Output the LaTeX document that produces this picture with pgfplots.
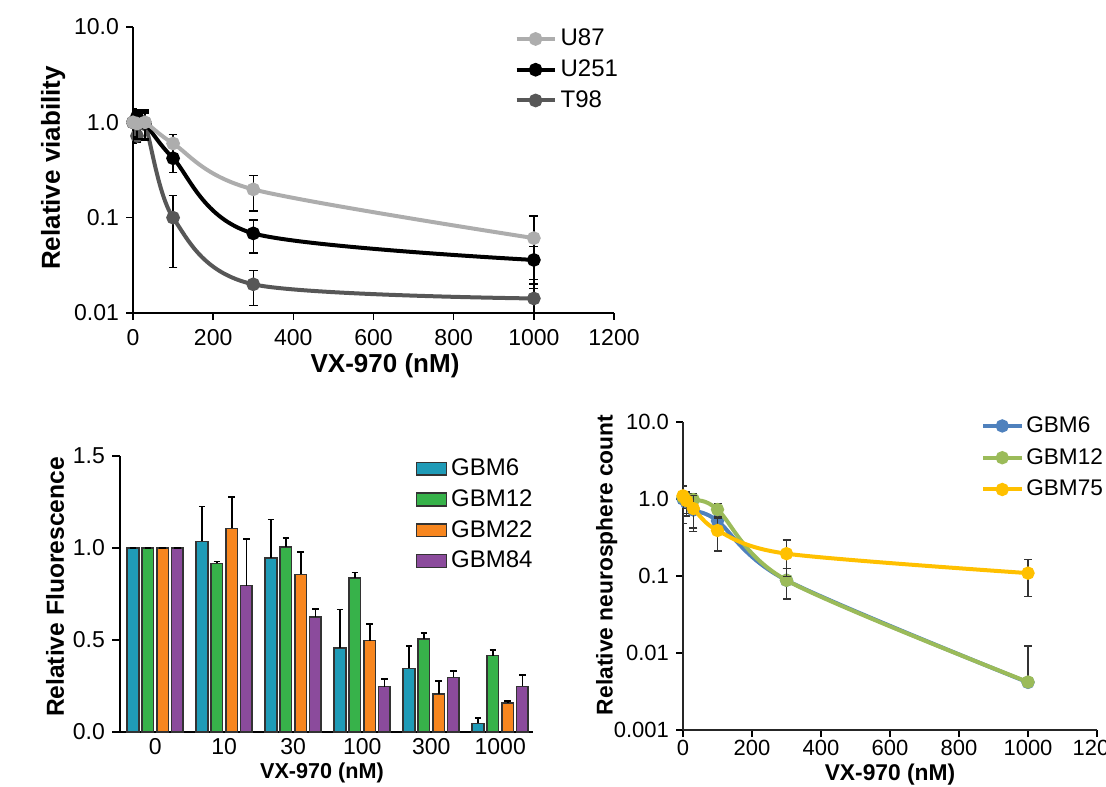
\documentclass[border=0pt]{standalone}
\usepackage{fontspec}
\setmainfont{Liberation Sans}
\usepackage{pgfplots}
\usepackage{pgfplotstable}
\pgfplotsset{compat=1.18}
\definecolor{uSevenEight}{HTML}{ADADAD}
\definecolor{tNineEight}{HTML}{575757}
\definecolor{gbmteal}{HTML}{1F9BB7}
\definecolor{gbmgreen}{HTML}{37B24A}
\definecolor{gbmorange}{HTML}{F7861F}
\definecolor{gbmpurple}{HTML}{8B4B9C}
\definecolor{xlblue}{HTML}{4F81BD}
\definecolor{xlgreen}{HTML}{9BBB59}
\definecolor{xlyellow}{HTML}{FFC000}
\definecolor{edge}{HTML}{333333}

% bar panel: category index, value, upper error
\pgfplotstableread{
x  a     ea     b     eb     c     ec     d     ed
0  1.000 0.000  1.000 0.000  1.000 0.000  1.000 0.000
1  1.036 0.190  0.916 0.011  1.107 0.168  0.796 0.251
2  0.947 0.208  1.005 0.051  0.856 0.122  0.626 0.042
3  0.457 0.209  0.836 0.031  0.497 0.091  0.247 0.040
4  0.346 0.120  0.506 0.031  0.207 0.072  0.297 0.033
5  0.047 0.031  0.415 0.031  0.158 0.009  0.248 0.060
}\bardata

\pgfplotsset{
  panel/.style={
    scale only axis, anchor=south west,
    axis lines=left, axis line style={-, line width=0.9pt},
    tick align=outside, major tick length=3.5pt,
    tick style={black, line width=0.8pt},
    /pgf/number format/assume math mode=true,
    /pgf/number format/1000 sep={},
    legend cell align=left,
  },
  lineleg/.style={
    legend image code/.code={\draw[mark repeat=2,mark phase=2,##1] plot coordinates {(0pt,0pt) (9.5pt,0pt) (19pt,0pt)};},
  },
}

\begin{document}
\begin{tikzpicture}
\useasboundingbox (0,0) rectangle (553pt,393pt);
\clip (0,0) rectangle (553pt,393pt);

% ---- top: cell lines ----
\begin{axis}[panel, lineleg,
  at={(66.5pt,236.5pt)}, width=240.5pt, height=143pt,
  xmin=0, xmax=1200, ymode=log, ymin=0.01, ymax=10,
  xtick={0,200,...,1200},
  ytick={0.01,0.1,1,10}, yticklabels={0.01,0.1,1.0,10.0},
  yminorticks=false,
  tick label style={font=\fontsize{11.5}{13}\selectfont},
  xticklabel style={yshift=-1pt},
  xlabel={VX-970 (nM)}, ylabel={Relative viability},
  label style={font=\fontsize{13}{15}\selectfont\bfseries},
  xlabel style={at={(axis description cs:0.524,-0.185)}, anchor=center},
  ylabel style={at={(axis description cs:-0.166,0.507)}, anchor=center},
  legend style={at={(axis description cs:0.78,1.022)}, anchor=north west,
    draw=none, fill=none, font=\fontsize{12}{14}\selectfont, row sep=1.5pt},
  reverse legend,
  clip mode=individual,
  every axis plot/.append style={line width=2pt, mark=*, mark size=2.4pt, smooth, tension=0.5,
    error bars/y dir=both, error bars/y explicit,
    error bars/error bar style={black, line width=0.7pt},
    error bars/error mark options={rotate=90, black, line width=0.7pt, mark size=2.2pt}},
]
\addplot[tNineEight, mark options={fill=tNineEight}] coordinates {
  (0,1.00) +- (0,0.30) (10,0.72) +- (0,0.10) (30,0.95) +- (0,0.30)
  (100,0.100) +- (0,0.070) (300,0.0200) +- (0,0.008) (1000,0.0142) +- (0,0.006)
};
\addlegendentry{T98}
\addplot[black, mark options={fill=black}] coordinates {
  (0,1.00) +- (0,0.30) (10,1.15) +- (0,0.20) (30,0.98) +- (0,0.30)
  (100,0.420) +- (0,0.124) (300,0.0684) +- (0,0.026) (1000,0.0360) +- (0,0.0136)
};
\addlegendentry{U251}
\addplot[uSevenEight, mark options={fill=uSevenEight}] coordinates {
  (0,1.00) +- (0,0.40) (10,0.97) +- (0,0.30) (30,1.00) +- (0,0.35)
  (100,0.600) +- (0,0.150) (300,0.198) +- (0,0.080) (1000,0.061) +- (0,0.043)
};
\addlegendentry{U87}
\end{axis}

% ---- bottom left: fluorescence bars ----
\begin{axis}[panel,
  at={(60pt,27pt)}, width=206.5pt, height=138pt,
  ybar=1.65pt, bar width=5.75pt,
  xmin=-0.51, xmax=5.475, ymin=0, ymax=1.5,
  xtick=data, xticklabels={0,10,30,100,300,1000},
  x tick style={draw=none},
  ytick={0,0.5,1,1.5}, major tick length=4pt,
  yticklabel style={/pgf/number format/.cd, fixed, fixed zerofill, precision=1},
  tick label style={font=\fontsize{11.5}{13}\selectfont},
  xticklabel style={yshift=4.5pt},
  xlabel={VX-970 (nM)}, ylabel={Relative Fluorescence},
  xlabel style={font=\fontsize{10.8}{13}\selectfont\bfseries, at={(axis description cs:0.489,-0.148)}, anchor=center},
  ylabel style={font=\fontsize{12.3}{14}\selectfont\bfseries, at={(axis description cs:-0.157,0.525)}, anchor=center},
  legend style={at={(axis description cs:0.70,1.02)}, anchor=north west,
    draw=none, fill=none, font=\fontsize{12}{14}\selectfont, row sep=1.5pt},
  legend image code/.code={\draw[#1, line width=0.8pt] (0pt,-3.2pt) rectangle (15pt,3.2pt);},
  every axis plot/.append style={draw=edge, line width=0.8pt,
    error bars/y dir=plus, error bars/y explicit,
    error bars/error bar style={black, line width=0.9pt},
    error bars/error mark options={rotate=90, black, line width=0.9pt, mark size=1.6pt}},
]
\addplot[fill=gbmteal] table[x=x, y=a, y error=ea] {\bardata};
\addlegendentry{GBM6}
\addplot[fill=gbmgreen] table[x=x, y=b, y error=eb] {\bardata};
\addlegendentry{GBM12}
\addplot[fill=gbmorange] table[x=x, y=c, y error=ec] {\bardata};
\addlegendentry{GBM22}
\addplot[fill=gbmpurple] table[x=x, y=d, y error=ed] {\bardata};
\addlegendentry{GBM84}
\end{axis}

% ---- bottom right: neurospheres ----
\begin{axis}[panel, lineleg,
  at={(341.5pt,28pt)}, width=207pt, height=154pt,
  xmin=0, xmax=1200, ymode=log, ymin=0.001, ymax=10,
  xtick={0,200,...,1200},
  ytick={0.001,0.01,0.1,1,10}, yticklabels={0.001,0.01,0.1,1.0,10.0},
  yminorticks=false,
  axis line style={-, line width=0.9pt, black!85},
  tick label style={font=\fontsize{11}{13}\selectfont},
  xticklabel style={yshift=2pt},
  xlabel={VX-970 (nM)}, ylabel={Relative neurosphere count},
  label style={font=\fontsize{11.4}{13}\selectfont\bfseries},
  xlabel style={at={(axis description cs:0.50,-0.146)}, anchor=center},
  ylabel style={at={(axis description cs:-0.184,0.536)}, anchor=center},
  legend style={at={(axis description cs:0.705,1.045)}, anchor=north west,
    draw=none, fill=none, font=\fontsize{11.3}{13}\selectfont, row sep=2.5pt,
    nodes={inner xsep=1.5pt}},
  clip mode=individual,
  every axis plot/.append style={line width=2pt, mark=*, mark size=2.3pt, smooth, tension=0.5,
    error bars/y dir=both, error bars/y explicit,
    error bars/error bar style={black!80, line width=0.7pt},
    error bars/error mark options={rotate=90, black!80, line width=0.7pt, mark size=2pt}},
]
\addplot[xlblue, mark options={fill=xlblue}] coordinates {
  (0,1.00) += (0,0.50) -= (0,0.52) (10,0.90) += (0,0.30) -= (0,0.30) (30,0.72) += (0,0.30) -= (0,0.30)
  (100,0.52) += (0,0.10) -= (0,0.10) (300,0.088) += (0,0.037) -= (0,0.037) (1000,0.00415) += (0,0.0082) -= (0,0)
};
\addlegendentry{GBM6}
\addplot[xlgreen, mark options={fill=xlgreen}] coordinates {
  (0,1.05) += (0,0.40) -= (0,0.40) (10,1.00) += (0,0.25) -= (0,0.25) (30,0.98) += (0,0.20) -= (0,0.20)
  (100,0.73) += (0,0.14) -= (0,0.14) (300,0.088) += (0,0.038) -= (0,0.038) (1000,0.0042) += (0,0.0082) -= (0,0)
};
\addlegendentry{GBM12}
\addplot[xlyellow, mark options={fill=xlyellow}] coordinates {
  (0,1.10) += (0,0.35) -= (0,0.35) (10,0.95) += (0,0.30) -= (0,0.30) (30,0.75) += (0,0.37) -= (0,0.37)
  (100,0.39) += (0,0.18) -= (0,0.18) (300,0.195) += (0,0.097) -= (0,0.097) (1000,0.109) += (0,0.055) -= (0,0.055)
};
\addlegendentry{GBM75}
\end{axis}
\end{tikzpicture}
\end{document}
